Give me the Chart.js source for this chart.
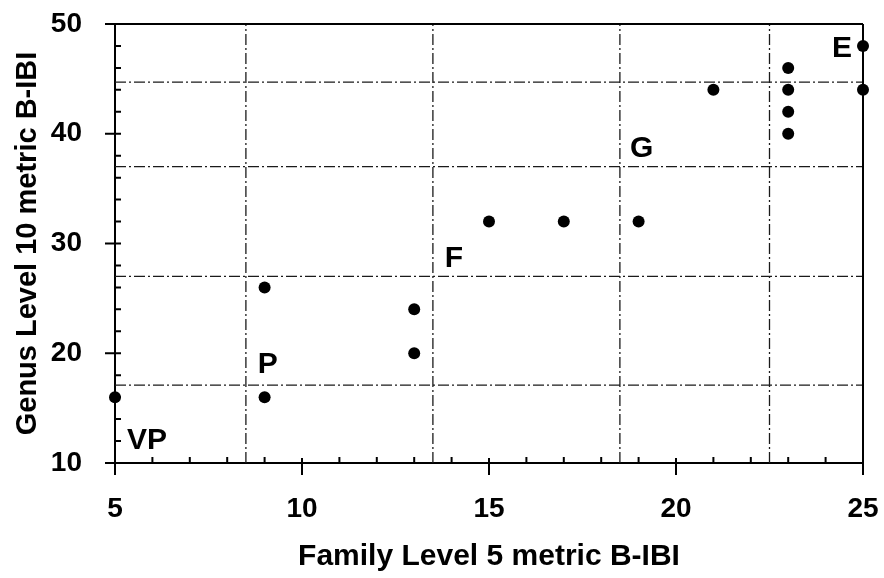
<!DOCTYPE html>
<html>
<head>
<meta charset="utf-8">
<script src="https://cdn.jsdelivr.net/npm/chart.js@4.4.0/dist/chart.umd.min.js"></script>
<style>
  html, body { margin: 0; padding: 0; background: #fff; }
  #wrap { width: 884px; height: 578px; }
</style>
</head>
<body>
<div id="wrap"><canvas id="chart"></canvas></div>
<script>
// family level (x) vs genus level (y) B-IBI scores
var familyScores = [5, 9, 9, 13, 13, 15, 17, 19, 21, 23, 23, 23, 23, 25, 25];
var genusScores  = [16, 16, 26, 20, 24, 32, 32, 32, 44, 46, 44, 42, 40, 48, 44];

// class boundaries drawn as dash-dot lines
var familyBreaks = [8.5, 13.5, 18.5, 22.5];
var genusBreaks  = [17.1, 27, 37, 44.7];

// condition class labels and where they sit (data units, left/baseline)
var classLabels = ['VP', 'P', 'F', 'G', 'E'];
var labelX = [5.32, 8.82, 13.82, 18.77, 24.17];
var labelY = [11.28, 18.2, 27.86, 37.88, 47.0];

var xRange = [5, 25];
var yRange = [10, 50];

Chart.defaults.font.family = '"Liberation Sans", Arial, sans-serif';
Chart.defaults.color = '#000';

var points = familyScores.map(function(v, i) { return {x: v, y: genusScores[i]}; });

var datasets = [{
  label: 'sites',
  data: points,
  showLine: false,
  pointRadius: 6,
  pointHoverRadius: 6,
  pointBackgroundColor: '#000',
  pointBorderWidth: 0,
  clip: false,
  order: 0
}];

var dashStyle = [11, 3, 2, 3];
familyBreaks.forEach(function(b) {
  datasets.push({
    data: [{x: b, y: yRange[0]}, {x: b, y: yRange[1]}],
    showLine: true, pointRadius: 0, borderColor: '#1a1a1a', borderWidth: 1.3,
    borderDash: dashStyle, order: 1
  });
});
genusBreaks.forEach(function(b) {
  datasets.push({
    data: [{x: xRange[0], y: b}, {x: xRange[1], y: b}],
    showLine: true, pointRadius: 0, borderColor: '#1a1a1a', borderWidth: 1.3,
    borderDash: dashStyle, order: 1
  });
});

// inward minor ticks, outward major ticks, top/right frame, class labels
var decorations = {
  id: 'decorations',
  afterDraw: function(chart) {
    var ctx = chart.ctx;
    var xs = chart.scales.x, ys = chart.scales.y;
    var a = chart.chartArea;
    ctx.save();
    ctx.strokeStyle = '#000';
    ctx.lineWidth = 2;
    ctx.beginPath();
    ctx.moveTo(a.left, a.top); ctx.lineTo(a.right, a.top);
    ctx.moveTo(a.right, a.top); ctx.lineTo(a.right, a.bottom);
    for (var v = xRange[0]; v <= xRange[1]; v++) {
      var px = xs.getPixelForValue(v);
      if (v % 5 === 0) { ctx.moveTo(px, a.bottom - 5); ctx.lineTo(px, a.bottom + 12); }
      else { ctx.moveTo(px, a.bottom); ctx.lineTo(px, a.bottom - 6); }
    }
    for (var w = yRange[0]; w <= yRange[1]; w += 2) {
      var py = ys.getPixelForValue(w);
      if (w % 10 === 0) { ctx.moveTo(a.left - 10, py); ctx.lineTo(a.left + 6, py); }
      else { ctx.moveTo(a.left, py); ctx.lineTo(a.left + 6, py); }
    }
    ctx.stroke();

    ctx.fillStyle = '#000';
    ctx.font = 'bold 30px "Liberation Sans", Arial, sans-serif';
    ctx.textBaseline = 'alphabetic';
    ctx.textAlign = 'left';
    classLabels.forEach(function(t, i) {
      ctx.fillText(t, xs.getPixelForValue(labelX[i]), ys.getPixelForValue(labelY[i]));
    });
    ctx.restore();
  }
};

new Chart(document.getElementById('chart'), {
  type: 'scatter',
  data: { datasets: datasets },
  plugins: [decorations],
  options: {
    responsive: true,
    maintainAspectRatio: false,
    animation: false,
    layout: { padding: { top: 24, right: 21, left: 0, bottom: 0 } },
    plugins: { legend: { display: false }, tooltip: { enabled: false } },
    scales: {
      x: {
        type: 'linear', min: xRange[0], max: xRange[1],
        grid: { display: false },
        border: { display: true, color: '#000', width: 2 },
        ticks: { stepSize: 5, padding: 21, font: { size: 28, weight: 'bold' }, color: '#000' },
        title: { display: true, text: 'Family Level 5 metric B-IBI', color: '#000',
                 font: { size: 30, weight: 'bold' }, padding: { top: 0, bottom: 3 } },
        afterFit: function(s) { s.height = 115; s.paddingLeft = 0; s.paddingRight = 0; }
      },
      y: {
        type: 'linear', min: yRange[0], max: yRange[1],
        grid: { display: false },
        border: { display: true, color: '#000', width: 2 },
        ticks: { stepSize: 10, padding: 25, font: { size: 28, weight: 'bold' }, color: '#000' },
        title: { display: true, text: 'Genus Level 10 metric B-IBI', color: '#000',
                 font: { size: 29, weight: 'bold' }, padding: { top: 11, bottom: 0 } },
        afterFit: function(s) { s.width = 115; s.paddingTop = 0; s.paddingBottom = 0; }
      }
    }
  }
});
</script>
</body>
</html>
